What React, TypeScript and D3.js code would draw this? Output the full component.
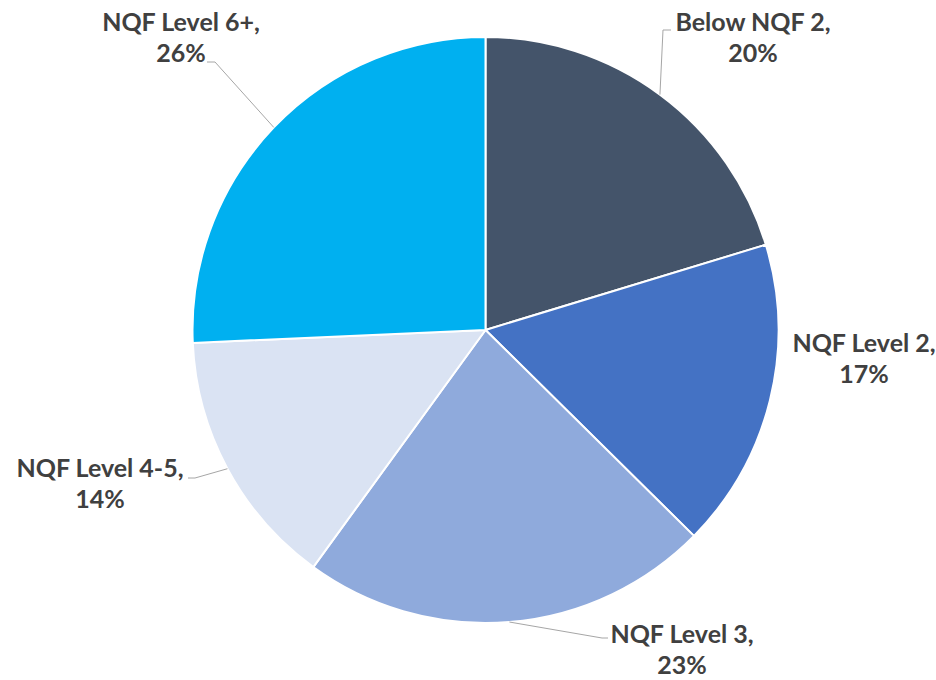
import React from "react";
import * as d3 from "d3";

const categories = ["Below NQF 2", "NQF Level 2", "NQF Level 3", "NQF Level 4-5", "NQF Level 6+"];
const values = [20.3, 17.1, 22.6, 14.3, 25.7];
const colors = ["#44546A", "#4472C4", "#8FAADC", "#DAE3F3", "#00B0F0"];

// layout: label text centre / baseline and leader elbow per slice
const labelLayout = [
  { x: 753, y: 31, elbow: [663, 30], end: [671, 30], leader: true },
  { x: 864, y: 352, elbow: [0, 0], end: [0, 0], leader: false },
  { x: 682, y: 643, elbow: [602, 638], end: [608, 638], leader: true },
  { x: 100, y: 477, elbow: [195, 478], end: [188, 478], leader: true },
  { x: 181, y: 31, elbow: [215, 62], end: [207, 62], leader: true },
];

const W = 936;
const H = 680;
const cx = 485.5;
const cy = 330;
const R = 293;

export default function App() {
  const data = categories.map((c, i) => ({ c, v: values[i], i }));
  const pie = d3.pie<any>().value((d) => d.v).sort(null).startAngle(0).endAngle(2 * Math.PI);
  const arcs = pie(data);
  const arc = d3.arc<any>().innerRadius(0).outerRadius(R);
  const total = d3.sum(values);
  const fmt = (v: number) => `${Math.round((v / total) * 100)}%`;

  return (
    <svg width={W} height={H} style={{ position: "absolute", left: 0, top: 0, background: "#fff" }}>
      <g transform={`translate(${cx},${cy})`}>
        {arcs.map((a, i) => (
          <path key={i} d={arc(a) as string} fill={colors[i]} stroke="#fff" strokeWidth={2} strokeLinejoin="round" />
        ))}
      </g>
      {arcs.map((a, i) => {
        const L = labelLayout[i];
        const mid = (a.startAngle + a.endAngle) / 2;
        const ex = cx + R * Math.sin(mid);
        const ey = cy - R * Math.cos(mid);
        return (
          <g key={i}>
            {L.leader && (
              <polyline
                points={`${ex},${ey} ${L.elbow[0]},${L.elbow[1]} ${L.end[0]},${L.end[1]}`}
                fill="none"
                stroke="#A6A6A6"
                strokeWidth={1}
              />
            )}
            <text
              x={L.x}
              y={L.y}
              textAnchor="middle"
              fontFamily="Lato, 'Open Sans', sans-serif"
              fontWeight="bold"
              fontSize={25}
              fill="#404040"
            >
              <tspan x={L.x}>{a.data.c},</tspan>
              <tspan x={L.x} dy={31}>{fmt(a.data.v)}</tspan>
            </text>
          </g>
        );
      })}
    </svg>
  );
}
